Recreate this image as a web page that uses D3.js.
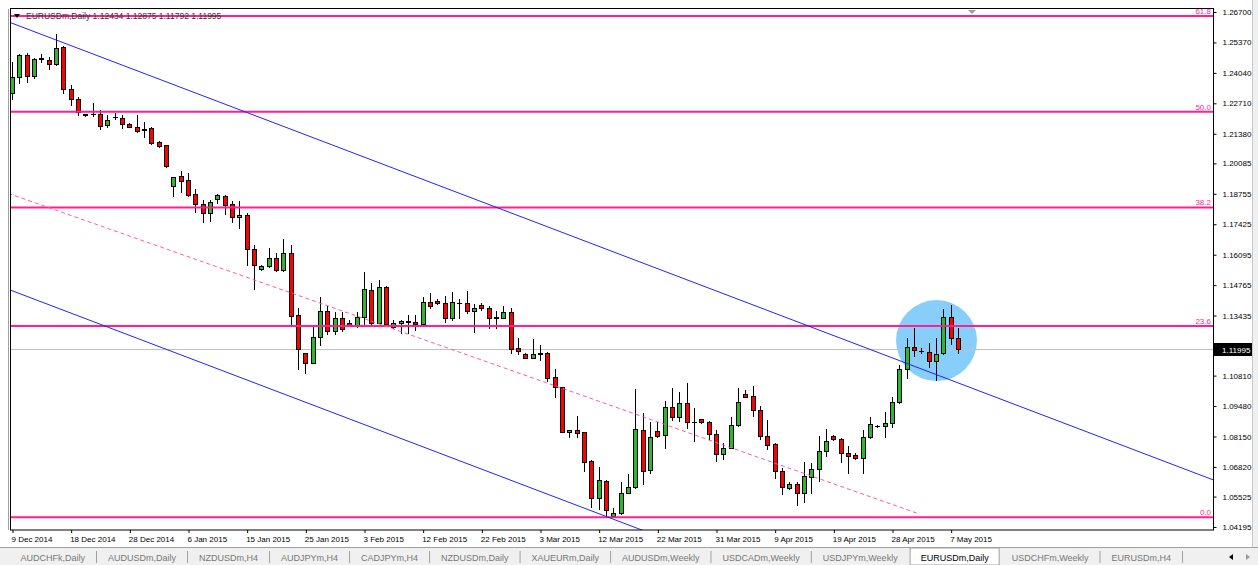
<!DOCTYPE html>
<html><head><meta charset="utf-8">
<script src="https://cdn.jsdelivr.net/npm/d3@7"></script>
<style>html,body{margin:0;padding:0;background:#fff;overflow:hidden}</style>
</head><body>
<svg id="c" width="1258" height="565"></svg>
<script>
const symbol = "EURUSDm,Daily";
const opens = [1.2317,1.2384,1.2482,1.2391,1.2467,1.2460,1.2441,1.2515,1.2334,1.2288,
1.2224,1.2224,1.2224,1.2176,1.2209,1.2205,1.2179,1.2168,1.2154,1.2161,
1.2100,1.2088,1.1909,1.1953,1.1935,1.1873,1.1829,1.1790,1.1852,1.1868,
1.1829,1.1774,1.1782,1.1633,1.1545,1.1561,1.1593,1.1542,1.1615,1.1345,
1.1178,1.1137,1.1248,1.1364,1.1277,1.1334,1.1312,1.1302,1.1335,1.1455,
1.1312,1.1469,1.1294,1.1312,1.1318,1.1316,1.1306,1.1401,1.1405,1.1397,
1.1331,1.1397,1.1397,1.1364,1.1389,1.1375,1.1335,1.1334,1.1360,1.1200,
1.1175,1.1160,1.1178,1.1178,1.1076,1.1030,1.0833,1.0843,1.0833,1.0707,
1.0546,1.0620,1.0467,1.0479,1.0569,1.0593,1.0843,1.0668,1.0838,1.0821,
1.0942,1.0901,1.0962,1.0879,1.0890,1.0879,1.0824,1.0738,1.0766,1.0865,
1.0999,1.0992,1.0930,1.0818,1.0782,1.0665,1.0588,1.0606,1.0566,1.0639,
1.0671,1.0752,1.0817,1.0802,1.0745,1.0734,1.0719,1.0811,1.0862,1.0862,
1.0872,1.0967,1.1110,1.1207,1.1188,1.1185,1.1146,1.1178,1.1335,1.12434];
const highs = [1.2450,1.2486,1.2493,1.2467,1.2485,1.2474,1.2572,1.2521,1.2351,1.2299,
1.2226,1.2273,1.2241,1.2219,1.2227,1.2219,1.2183,1.2219,1.2190,1.2168,
1.2105,1.2090,1.1950,1.1976,1.1967,1.1895,1.1848,1.1848,1.1874,1.1871,
1.1845,1.1845,1.1790,1.1651,1.1564,1.1637,1.1615,1.1676,1.1651,1.1375,
1.1180,1.1294,1.1423,1.1385,1.1360,1.1360,1.1324,1.1360,1.1535,1.1484,
1.1498,1.1474,1.1324,1.1324,1.1345,1.1345,1.1423,1.1440,1.1414,1.1429,
1.1445,1.1415,1.1450,1.1394,1.1399,1.1385,1.1363,1.1385,1.1377,1.1244,
1.1178,1.1239,1.1217,1.1185,1.1112,1.1032,1.0843,1.0904,1.0836,1.0712,
1.0680,1.0627,1.0501,1.0617,1.0651,1.1021,1.0916,1.0879,1.0879,1.0971,
1.1028,1.1010,1.1047,1.0938,1.0891,1.0882,1.0843,1.0785,1.0901,1.1025,
1.1018,1.1035,1.0948,1.0887,1.0785,1.0676,1.0617,1.0617,1.0704,1.0697,
1.0817,1.0846,1.0821,1.0807,1.0775,1.0744,1.0843,1.0901,1.0867,1.0923,
1.0986,1.1127,1.1244,1.1287,1.1200,1.1224,1.1244,1.1372,1.1389,1.12875];
const lows = [1.2292,1.2358,1.2365,1.2383,1.2452,1.2419,1.2438,1.2317,1.2263,1.2219,
1.2217,1.2215,1.2158,1.2166,1.2201,1.2164,1.2166,1.2147,1.2122,1.2093,
1.2081,1.1994,1.1866,1.1884,1.1867,1.1797,1.1753,1.1758,1.1834,1.1786,
1.1753,1.1724,1.1564,1.1459,1.1542,1.1557,1.1538,1.1539,1.1302,1.1110,
1.1093,1.1134,1.1217,1.1262,1.1262,1.1277,1.1298,1.1292,1.1306,1.1298,
1.1309,1.1302,1.1287,1.1268,1.1268,1.1280,1.1302,1.1375,1.1392,1.1316,
1.1324,1.1331,1.1356,1.1272,1.1367,1.1290,1.1287,1.1331,1.1178,1.1174,
1.1158,1.1156,1.1149,1.1057,1.0986,1.0833,1.0814,1.0814,1.0664,1.0508,
1.0496,1.0462,1.0465,1.0476,1.0566,1.0588,1.0607,1.0654,1.0814,1.0763,
1.0887,1.0884,1.0853,1.0796,1.0873,1.0802,1.0707,1.0715,1.0763,1.0860,
1.0986,1.0904,1.0802,1.0760,1.0632,1.0562,1.0584,1.0515,1.0527,1.0566,
1.0620,1.0729,1.0799,1.0704,1.0654,1.0715,1.0656,1.0807,1.0856,1.0814,
1.0857,1.0960,1.1069,1.1168,1.1178,1.1117,1.1061,1.1175,1.1220,1.11792];
const closes = [1.2387,1.2482,1.2391,1.2463,1.2466,1.2441,1.2511,1.2334,1.2288,1.2234,
1.2219,1.2223,1.2173,1.2198,1.2210,1.2179,1.2168,1.2151,1.2160,1.2096,
1.2085,1.1997,1.1949,1.1932,1.1870,1.1829,1.1790,1.1839,1.1871,1.1826,
1.1775,1.1781,1.1633,1.1564,1.1561,1.1593,1.1542,1.1615,1.1342,1.1197,
1.1137,1.1251,1.1364,1.1277,1.1334,1.1283,1.1302,1.1335,1.1458,1.1312,
1.1469,1.1306,1.1312,1.1318,1.1317,1.1306,1.1401,1.1386,1.1397,1.1331,
1.1401,1.1398,1.1364,1.1377,1.1375,1.1331,1.1334,1.1360,1.1197,1.1189,
1.1160,1.1175,1.1177,1.1072,1.1030,1.0836,1.0843,1.0829,1.0704,1.0546,
1.0624,1.0493,1.0479,1.0569,1.0593,1.0846,1.0664,1.0814,1.0818,1.0942,
1.0901,1.0960,1.0879,1.0878,1.0877,1.0825,1.0737,1.0766,1.0865,1.0967,
1.0988,1.0930,1.0817,1.0780,1.0664,1.0595,1.0607,1.0566,1.0643,1.0672,
1.0752,1.0796,1.0804,1.0744,1.0731,1.0719,1.0811,1.0869,1.0862,1.0875,
1.0967,1.1110,1.1207,1.1193,1.1189,1.1146,1.1175,1.1335,1.1244,1.11995];
const dateLabels = ["9 Dec 2014","18 Dec 2014","28 Dec 2014","6 Jan 2015","15 Jan 2015","25 Jan 2015","3 Feb 2015","12 Feb 2015","22 Feb 2015","3 Mar 2015","12 Mar 2015","22 Mar 2015","31 Mar 2015","9 Apr 2015","19 Apr 2015","28 Apr 2015","7 May 2015"];
const dateLabelEvery = 8;
const priceTicks = [1.26700,1.25370,1.24040,1.22710,1.21380,1.20085,1.18755,1.17425,1.16095,1.14765,1.13435,1.10810,1.09480,1.08150,1.06820,1.05525,1.04195];
const fibLabels = ["0.0","23.6","38.2","50.0","61.8"];
const fibPrices = [1.0462,1.1298,1.1816,1.2234,1.2652];
const currentPrice = 1.11995;
const channelUpper = [[0,1.2621],[120,1.1159]];
const channelLower = [[0,1.1452],[120,0.9991]];
const midLine = [[-5,1.1928],[123.4,1.0480]];
const ellipseCenter = [126.07,1.1234];
const ellipseRadius = [5.52,0.0177];
const tabs = ["AUDCHFk,Daily","AUDUSDm,Daily","NZDUSDm,H4","AUDJPYm,H4","CADJPYm,H4","NZDUSDm,Daily","XAUEURm,Daily","AUDUSDm,Weekly","USDCADm,Weekly","USDJPYm,Weekly","EURUSDm,Daily","USDCHFm,Weekly","EURUSDm,H4"];
const activeTab = 10;

const FONT = "'Liberation Sans', Arial, sans-serif";
const L = 10, R = 1213, T = 9, B = 530;
const svg = d3.select("#c");
const x = d3.scaleLinear().domain([0, 130]).range([12, 12 + 130 * 7.3333]);
const y = d3.scaleLinear().domain([1.04195, 1.26700]).range([527, 12]);

svg.append("rect").attr("width",1258).attr("height",565).attr("fill","#fff");
svg.append("defs").append("clipPath").attr("id","clip").append("rect")
  .attr("x",L+1).attr("y",T+1).attr("width",R-L-1).attr("height",B-T-1);
const plot = svg.append("g").attr("clip-path","url(#clip)");

// ellipse (background object)
plot.append("ellipse")
  .attr("cx", x(ellipseCenter[0])).attr("cy", y(ellipseCenter[1]))
  .attr("rx", x(ellipseCenter[0]+ellipseRadius[0]) - x(ellipseCenter[0]))
  .attr("ry", y(ellipseCenter[1]-ellipseRadius[1]) - y(ellipseCenter[1]))
  .attr("fill","#87cefa");

// current price line
const cpY = Math.round(y(currentPrice)) + 0.5;
plot.append("line").attr("x1",L).attr("x2",R).attr("y1",cpY).attr("y2",cpY)
  .attr("stroke","#c0c0c0").attr("stroke-width",1);

// header
svg.append("path").attr("d","M14,14 L20,14 L17,18 Z").attr("fill","#000");
svg.append("text").attr("x",26).attr("y",19).attr("font-family",FONT).attr("font-size",8.5)
  .attr("fill","#333")
  .text(symbol + "  " + [opens, highs, lows, closes].map(a => a[a.length-1].toFixed(5)).join(" "));

// candles
const bars = d3.range(opens.length).map(i => ({i, o: opens[i], h: highs[i], l: lows[i], c: closes[i]}));
const cg = plot.append("g");
bars.forEach(b => {
  const cx = Math.round(x(b.i)) + 0.5;
  cg.append("line").attr("x1",cx).attr("x2",cx)
    .attr("y1",Math.round(y(b.h))).attr("y2",Math.round(y(b.l))+1)
    .attr("stroke","#000").attr("stroke-width",1);
  const yTop = Math.round(y(Math.max(b.o,b.c)));
  const yBot = Math.round(y(Math.min(b.o,b.c)));
  if (yBot - yTop < 1) {
    cg.append("line").attr("x1",cx-2.5).attr("x2",cx+2.5).attr("y1",yTop+0.5).attr("y2",yTop+0.5)
      .attr("stroke","#000").attr("stroke-width",1);
  } else {
    cg.append("rect").attr("x",cx-2).attr("y",yTop+0.5).attr("width",4).attr("height",yBot-yTop)
      .attr("fill", b.c > b.o ? "#2fb52f" : "#ff0000")
      .attr("stroke","#000").attr("stroke-width",1);
  }
});

// fib levels
fibPrices.forEach((p, k) => {
  const fy = y(p);
  plot.append("line").attr("x1",L).attr("x2",R).attr("y1",fy).attr("y2",fy)
    .attr("stroke","#ff1f8e").attr("stroke-width",2);
  svg.append("text").attr("x",R-2).attr("y",fy-2).attr("text-anchor","end")
    .attr("font-family",FONT).attr("font-size",8).attr("fill","#ff1f8e").text(fibLabels[k]);
});

// trend lines (rays extended across the plot)
function extend(pts, x0, x1) {
  const [[a,pa],[b,pb]] = pts;
  const s = (pb-pa)/(b-a);
  return [[x0, pa + s*(x0-a)], [x1, pa + s*(x1-a)]];
}
const xMin = x.invert(L), xMax = x.invert(R);
const lineGen = d3.line().x(d => x(d[0])).y(d => y(d[1]));
[channelUpper, channelLower].forEach(ch => {
  plot.append("path").attr("d", lineGen(extend(ch, xMin, xMax)))
    .attr("fill","none").attr("stroke","#2222ff").attr("stroke-width",1);
});
plot.append("path").attr("d", lineGen(midLine))
  .attr("fill","none").attr("stroke","#ff5aa8").attr("stroke-width",1)
  .attr("stroke-dasharray","4,3");

// frame
svg.append("line").attr("x1",8.5).attr("x2",8.5).attr("y1",T).attr("y2",B).attr("stroke","#a0a0a0");
svg.append("rect").attr("x",L+0.5).attr("y",T-0.5).attr("width",R-L).attr("height",B-T+0.5)
  .attr("fill","none").attr("stroke","#000").attr("stroke-width",1);

// top shift marker
svg.append("path").attr("d","M968,10 L976,10 L972,14 Z").attr("fill","#a0a0a0");

// right price axis
const yAxis = d3.axisRight(y).tickValues(priceTicks).tickFormat(d3.format(".5f"))
  .tickSize(3).tickSizeOuter(0).tickPadding(6);
const ya = svg.append("g").attr("transform",`translate(${R+0.5},0)`).call(yAxis);
ya.select(".domain").remove();
ya.selectAll("line").attr("stroke","#000");
ya.selectAll("text").attr("font-family",FONT).attr("font-size",8).attr("fill","#000");

// current price label
svg.append("rect").attr("x",R+1).attr("y",cpY-6.5).attr("width",38).attr("height",13).attr("fill","#000");
svg.append("text").attr("x",R+9).attr("y",cpY+3).attr("font-family",FONT).attr("font-size",8)
  .attr("fill","#fff").text(currentPrice.toFixed(5));

// bottom time axis
const tickIdx = dateLabels.map((d,k) => k*dateLabelEvery);
const xAxis = d3.axisBottom(x).tickValues(tickIdx).tickFormat((d,k) => dateLabels[k])
  .tickSize(3).tickSizeOuter(0).tickPadding(3);
const xa = svg.append("g").attr("transform",`translate(0.5,${B})`).call(xAxis);
xa.select(".domain").remove();
xa.selectAll("line").attr("stroke","#000");
xa.selectAll("text").attr("text-anchor","start").attr("dx",-1.5)
  .attr("font-family",FONT).attr("font-size",8).attr("fill","#000");

// right window edge
svg.append("line").attr("x1",1252.5).attr("x2",1252.5).attr("y1",0).attr("y2",547).attr("stroke","#c8c8c8");
svg.append("rect").attr("x",1253).attr("y",0).attr("width",5).attr("height",547).attr("fill","#f0f0f0");

// tabs
const tg = svg.append("g");
tg.append("rect").attr("x",0).attr("y",547).attr("width",1258).attr("height",18).attr("fill","#f0f0f0");
tg.append("line").attr("x1",0).attr("x2",1258).attr("y1",547.5).attr("y2",547.5).attr("stroke","#a0a0a0");
let tx = 20.5;
tabs.forEach((t, k) => {
  const txt = tg.append("text").attr("x",tx).attr("y",561).attr("font-family",FONT).attr("font-size",9)
    .attr("fill", k === activeTab ? "#000" : "#777").text(t);
  const w = txt.node().getComputedTextLength();
  if (k === activeTab) {
    tg.insert("rect","text").attr("x",tx-10.5).attr("y",548).attr("width",w+21).attr("height",17)
      .attr("fill","#fff").attr("stroke","#a0a0a0");
  } else if (k + 1 !== activeTab) {
    tg.append("line").attr("x1",tx+w+11.5).attr("x2",tx+w+11.5).attr("y1",551).attr("y2",563).attr("stroke","#a0a0a0");
  }
  tx = tx + w + 23;
});
tg.append("path").attr("d","M1229,557 L1233,554 L1233,560 Z").attr("fill","#000");
tg.append("path").attr("d","M1246,554 L1250,557 L1246,560 Z").attr("fill","#999");
</script>
</body></html>
